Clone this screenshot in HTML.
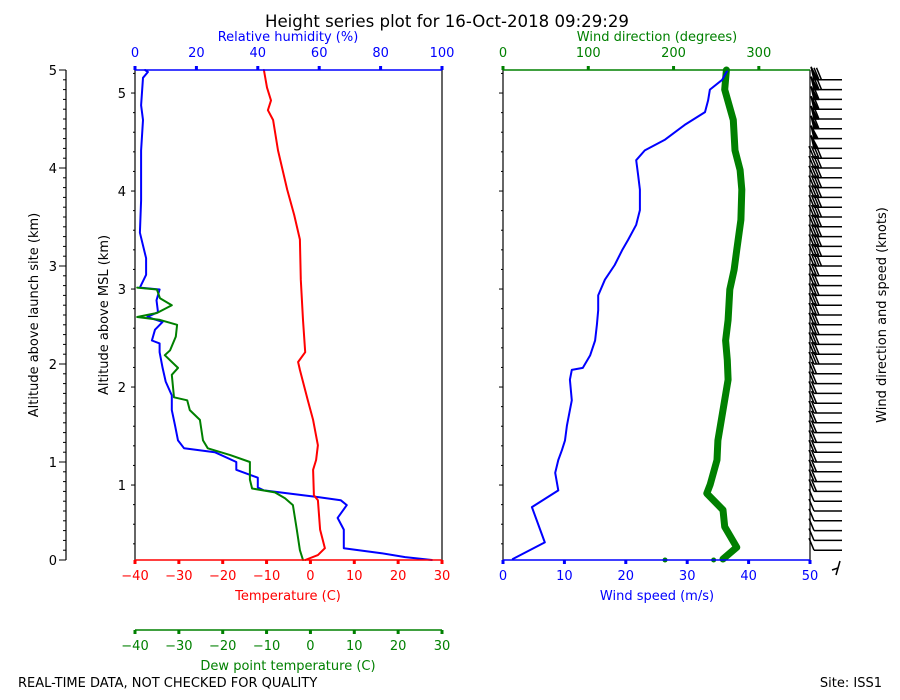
<!DOCTYPE html>
<html><head><meta charset="utf-8"><style>
html,body{margin:0;padding:0;background:#fff}
svg{display:block;font-family:"DejaVu Sans","Liberation Sans",sans-serif}
</style></head><body>
<svg id="chart" width="900" height="700" viewBox="0 0 900 700">
<text x="447" y="27" font-size="16.6" text-anchor="middle">Height series plot for 16-Oct-2018 09:29:29</text>
<text x="18" y="687" font-size="13">REAL-TIME DATA, NOT CHECKED FOR QUALITY</text>
<text x="882" y="687" font-size="13" text-anchor="end">Site: ISS1</text>
<g id="g"></g>
</svg>
<script>
// ---- data ----
const tempAlt = [0,0.05,0.12,0.31,0.61,0.66,0.92,1.02,1.17,1.43,1.63,1.94,2.02,2.12,2.45,2.86,3.27,3.52,3.78,4.18,4.49,4.59,4.69,4.82,5.0];
const tempVal = [-1.2,1.7,3.3,2.2,1.7,0.8,0.6,1.3,1.7,0.6,-0.6,-2.4,-2.8,-1.2,-1.7,-2.2,-2.4,-3.7,-5.3,-7.4,-8.5,-9.7,-9.0,-9.9,-10.6];
const rhAlt = [0,0.03,0.07,0.12,0.31,0.43,0.56,0.61,0.64,0.71,0.74,0.84,0.92,1.0,1.1,1.14,1.22,1.38,1.53,1.68,1.82,1.96,2.12,2.21,2.24,2.35,2.43,2.48,2.53,2.65,2.76,2.78,2.91,3.08,3.34,3.67,4.18,4.49,4.64,4.92,4.98,5.0];
const rhVal = [96.7,88,80,68,68,66,69,67,60,42,40,40,33,33,26,16,14,13,12,12,10,9,8,8,5.5,6.5,9,4,7.5,7,8,1.6,3.6,3.6,1.6,2,2,2.6,2,2.6,4.2,3.3];
const dewAlt = [0,0.1,0.31,0.56,0.63,0.69,0.73,0.82,1.0,1.07,1.14,1.22,1.43,1.53,1.63,1.66,1.89,1.96,2.09,2.14,2.28,2.40,2.45,2.48,2.52,2.6,2.67,2.76,2.78];
const dewVal = [-1.7,-2.4,-3.1,-4.0,-5.8,-8.1,-13.3,-13.8,-13.8,-18.3,-23.4,-24.5,-25.2,-27.5,-28.1,-31.1,-31.6,-30.2,-33.2,-32.0,-30.7,-30.4,-34.3,-39.5,-35,-31.6,-34.3,-35,-39.5];
const spdAlt = [0.01,0.18,0.54,0.71,0.89,1.02,1.12,1.22,1.37,1.53,1.63,1.84,1.94,1.96,2.09,2.24,2.4,2.55,2.7,2.86,3.01,3.16,3.27,3.42,3.57,3.78,3.93,4.08,4.18,4.29,4.44,4.57,4.69,4.8,4.9,5.0];
const spdVal = [1.6,6.8,4.7,9.0,8.5,9.0,9.6,10.1,10.4,10.9,11.2,10.9,11.2,13.0,14.2,15,15.3,15.5,15.5,16.6,18.2,19.4,20.4,21.7,22.3,22.3,22,21.7,23.1,26.4,29.6,32.9,33.4,33.7,35.7,36.6];
const dirAlt = [0.01,0.13,0.34,0.51,0.68,0.77,1.02,1.22,1.84,2.04,2.24,2.45,2.76,2.96,3.16,3.47,3.78,3.98,4.18,4.49,4.8,5.0];
const dirVal = [258,274,260,258,239,243,251,252,264,263,261,264,266,271,274,279,280,278,272,270,260,262];
const dirDotsAlt = [0,0];
const dirDotsVal = [190,247];
// ---- scales ----
const yA = a => 560 - a*98;
const MSL_OFF = 0.235;
const xT = t => 135 + (t+40)*307/70;
const xRH = r => 135 + r*3.07;
const xS = s => 503 + s*307/50;
const xD = d => 503 + d*307/360;
const NS="http://www.w3.org/2000/svg";
const G=document.getElementById('g');
function el(tag,attrs,parent){const e=document.createElementNS(NS,tag);for(const k in attrs)e.setAttribute(k,attrs[k]);(parent||G).appendChild(e);return e;}
function txt(x,y,s,attrs){const e=el('text',Object.assign({x:x,y:y,'font-size':13},attrs||{}));e.textContent=s;return e;}
function line(x1,y1,x2,y2,c,w){return el('line',{x1:x1,y1:y1,x2:x2,y2:y2,stroke:c,'stroke-width':w||1});}
function poly(xs,ys,c,w){let d='';for(let i=0;i<xs.length;i++)d+=(i?'L':'M')+xs[i].toFixed(1)+','+ys[i].toFixed(1);return el('path',{d:d,fill:'none',stroke:c,'stroke-width':w,'stroke-linejoin':'round','stroke-linecap':'round'});}

let e=line(66,70,66,560,'#000',1.2);

for(let i=0;i<=50;i++){const y=yA(i/10);line(66,y,i%10?63:59,y,'#000',1);}
for(let i=0;i<=5;i++){e=txt(57,yA(i)+5,String(i),{'text-anchor':'end'});}
e=txt(0,0,'Altitude above launch site (km)',{'text-anchor':'middle',transform:'translate(38,315) rotate(-90)'});

e=txt(0,0,'Altitude above MSL (km)',{'text-anchor':'middle',transform:'translate(108,315) rotate(-90)'});

e=txt(0,0,'Wind direction and speed (knots)',{'text-anchor':'middle',transform:'translate(886,315) rotate(-90)'});


for(let m=0.4;m<=5.25;m+=0.2){const mm=Math.round(m*10)/10;const y=yA(mm-MSL_OFF);if(y<70)continue;const major=Math.abs(mm-Math.round(mm))<0.01;
 line(135,y,major?131:133,y,'#000',1);line(503,y,major?499:501,y,'#000',1);
 if(major){e=txt(126,y+5,String(Math.round(mm)),{'text-anchor':'end'});}}

e=poly(rhVal.map(xRH),rhAlt.map(yA),'#0000ff',2);
e=poly(dewVal.map(xT),dewAlt.map(yA),'#008000',2);
e=poly(tempVal.map(xT),tempAlt.map(yA),'#ff0000',2);

line(135,70,135,560,'#000',1.2);line(442,70,442,560,'#000',1.2);
e=line(135,70,442,70,'#0000ff',1.5);
e=line(135,560,442,560,'#ff0000',1.5);
e=line(135,630,442,630,'#008000',1.5);
for(let r=0;r<=100;r+=20){const x=xRH(r);line(x,70,x,66,'#0000ff',3);e=txt(x,57,String(r),{'text-anchor':'middle',fill:'#0000ff'});}
for(let t=-40;t<=30;t+=10){const x=xT(t);const s=t<0?'\u2212'+(-t):String(t);
 line(x,560,x,564,'#ff0000',3);e=txt(x,580,s,{'text-anchor':'middle',fill:'#ff0000'});
 line(x,630,x,634,'#008000',3);e=txt(x,650,s,{'text-anchor':'middle',fill:'#008000'});}
e=txt(288,41,'Relative humidity (%)',{'text-anchor':'middle',fill:'#0000ff'});
e=txt(288,600,'Temperature (C)',{'text-anchor':'middle',fill:'#ff0000'});
e=txt(288,670,'Dew point temperature (C)',{'text-anchor':'middle',fill:'#008000'});

e=poly(dirVal.map(xD),dirAlt.map(yA),'#008000',7);
for(let i=0;i<dirDotsVal.length;i++){e=el('circle',{cx:xD(dirDotsVal[i]),cy:yA(dirDotsAlt[i]),r:2.5,fill:'#008000'});}
e=poly(spdVal.map(xS),spdAlt.map(yA),'#0000ff',2);
line(503,70,503,560,'#000',1.2);line(810,70,810,560,'#000',1.2);
e=line(503,70,810,70,'#008000',1.5);
e=line(503,560,810,560,'#0000ff',1.5);
for(let d=0;d<=300;d+=100){const x=xD(d);line(x,70,x,66,'#008000',3);e=txt(x,57,String(d),{'text-anchor':'middle',fill:'#008000'});}
for(let s=0;s<=50;s+=10){const x=xS(s);line(x,560,x,564,'#0000ff',3);e=txt(x,580,String(s),{'text-anchor':'middle',fill:'#0000ff'});}
e=txt(657,41,'Wind direction (degrees)',{'text-anchor':'middle',fill:'#008000'});
e=txt(657,600,'Wind speed (m/s)',{'text-anchor':'middle',fill:'#0000ff'});

// wind barbs
function interp(xs,ys,a){for(let i=1;i<xs.length;i++){if(a<=xs[i]){const f=(a-xs[i-1])/(xs[i]-xs[i-1]);return ys[i-1]+f*(ys[i]-ys[i-1]);}}return ys[ys.length-1];}
const bg=el('g',{stroke:'#000','stroke-width':1.5,fill:'none'});


for(let k=1;k<=49;k++){const a=k/10;const y=yA(a);const kn=interp(spdAlt,spdVal,a)*1.944;
 let n=Math.round(kn/10);let x=814;
 el('line',{x1:814,y1:y,x2:842,y2:y},bg);
 while(n>=5){el('path',{d:`M${x},${y}L${x-3},${y-13}L${x+4},${y}Z`,fill:'#000'},bg);x+=5;n-=5;}
 for(let j=0;j<n;j++){el('line',{x1:x+j*2.5,y1:y,x2:x+j*2.5-5,y2:y-12},bg);}
}
el('path',{d:'M836,575L840,561M832,570L838,568'},bg);
</script>
</body></html>
